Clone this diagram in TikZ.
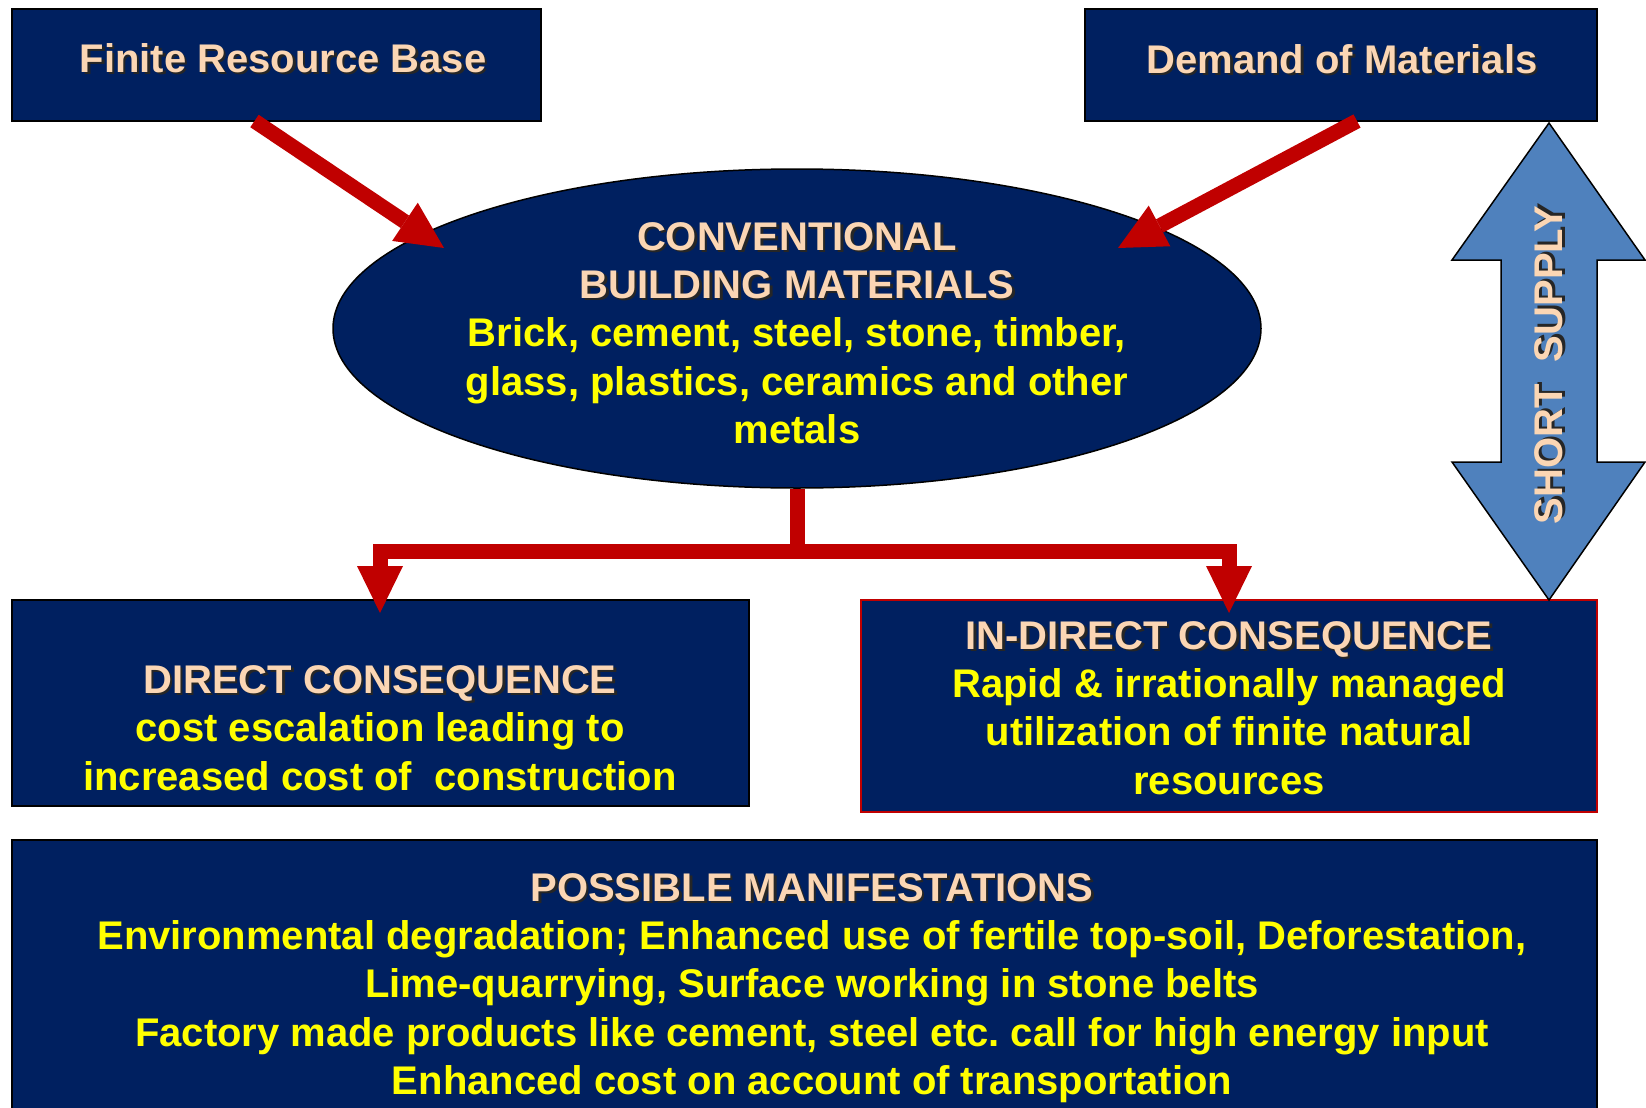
\documentclass[tikz,border=0pt]{standalone}
\usepackage{fontspec}
\setmainfont{Liberation Sans}
\usetikzlibrary{arrows.meta,shapes.geometric}
\definecolor{navy}{HTML}{002060}
\definecolor{peach}{RGB}{251,214,180}
\definecolor{lemon}{HTML}{FFFF00}
\definecolor{arrowred}{HTML}{C00000}
\definecolor{supplyblue}{HTML}{4F81BD}
\frenchspacing
% title text with a soft dark drop shadow
\newcommand\shd[1]{\leavevmode\rlap{\kern2.5pt\raisebox{-2.5pt}{\color{black!85}#1}}#1}
\newcommand\ttl[1]{\textcolor{peach}{\shd{#1}}}
\begin{document}
\begin{tikzpicture}[x=1pt,y=-1pt,
  panel/.style={draw=black,line width=1.5pt,fill=navy,inner sep=0pt},
  txt/.style={inner sep=0pt,align=center,text=lemon,
    font=\fontsize{40}{48.3}\selectfont\bfseries},
  redarrow/.style={draw=arrowred,line width=15pt,line join=miter,
    -{Triangle[length=47pt,width=46pt,line width=0pt]}},
  redline/.style={draw=arrowred,line width=15pt,line join=miter}]
\useasboundingbox (0,0) rectangle (1646,1108);
\clip (0,0) rectangle (1646,1108);

% boxes
\node[panel,minimum width=529,minimum height=112] (frb) at (276.5,65) {};
\node[panel,minimum width=512,minimum height=112] (dom) at (1341,65) {};
\node[panel,ellipse,minimum width=928,minimum height=319] (ell) at (797,328.5) {};
\node[panel,minimum width=737,minimum height=206] (dc) at (380.5,703) {};
\node[panel,draw=arrowred,line width=2.5pt,minimum width=736,minimum height=212] (idc) at (1229,706) {};
\node[panel,minimum width=1585,minimum height=280] (pm) at (804.5,980) {};

% texts
\node[txt] (frbT) at (283,59) {\ttl{Finite Resource Base}};
\node[txt] (domT) at (1342,60) {\ttl{Demand of Materials}};
\node[txt] (ellT) at (797,333) {\ttl{CONVENTIONAL}\\\ttl{BUILDING MATERIALS}\\
  Brick, cement, steel, stone, timber,\\glass, plastics, ceramics and other\\metals};
\node[txt] (dcT) at (380,728) {\ttl{DIRECT CONSEQUENCE}\\cost escalation leading to\\
  increased cost of~ construction};
\node[txt] (idcT) at (1229,708) {\ttl{IN-DIRECT CONSEQUENCE}\\Rapid \& irrationally managed\\
  utilization of finite natural\\resources};
\node[txt] (pmT) at (812,988) {\ttl{POSSIBLE MANIFESTATIONS}\\
  Environmental degradation; Enhanced use of fertile top-soil, Deforestation,\\
  Lime-quarrying, Surface working in stone belts\\
  Factory made products like cement, steel etc. call for high energy input\\
  Enhanced cost on account of transportation};

% short supply double arrow
\draw[fill=supplyblue,line width=1.5pt,line join=miter]
  (1549,123) -- (1645,260) -- (1597,260) -- (1597,462) -- (1645,462) -- (1549,600)
  -- (1452,462) -- (1501,462) -- (1501,260) -- (1452,260) -- cycle;
\node[txt,rotate=90,font=\fontsize{40}{46}\selectfont\bfseries] (ss) at (1550,365) {\ttl{SHORT~ SUPPLY}};

% feeding arrows
\coordinate (frbTail) at (254.5,121);
\coordinate (frbTip) at (444,248);
\coordinate (domTail) at (1357,121);
\coordinate (domTip) at (1118,248);
\draw[redarrow] (frbTail) -- (frbTip);
\draw[redarrow] (domTail) -- (domTip);

% consequence tree
\coordinate (jn) at (797,551);
\coordinate (dcTip) at (380,613);
\coordinate (idcTip) at (1229,613);
\draw[redline] (ell.south) -- (jn);
\draw[redarrow] (jn) -| (dcTip);
\draw[redarrow] (jn) -| (idcTip);
\end{tikzpicture}
\end{document}
